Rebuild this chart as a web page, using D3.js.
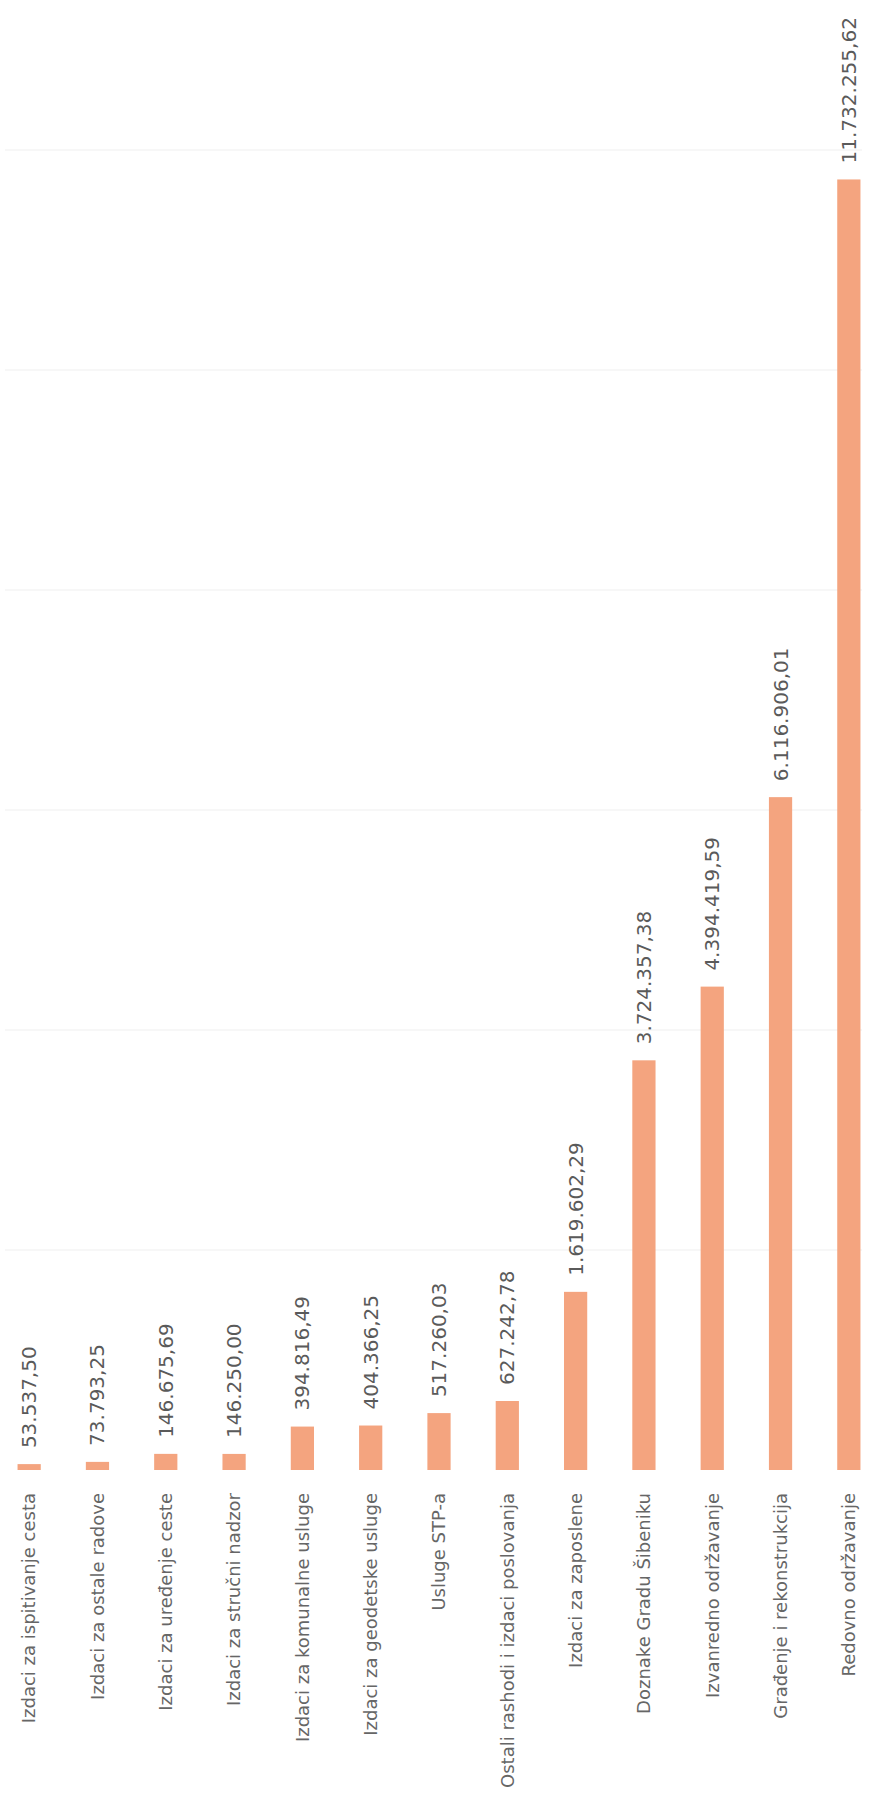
<!DOCTYPE html>
<html>
<head>
<meta charset="utf-8">
<script src="https://cdn.jsdelivr.net/npm/d3@7"></script>
<style>
  body { margin: 0; background: #fff; }
  .val { font-family: "DejaVu Sans", sans-serif; font-size: 20px; fill: #5a5a5a; }
  .cat { font-family: "DejaVu Sans", sans-serif; font-size: 18px; fill: #666; }
</style>
</head>
<body>
<div id="chart"></div>
<script>
// stavke rashoda, od najmanje do najvece
var categories = [
  "Izdaci za ispitivanje cesta",
  "Izdaci za ostale radove",
  "Izdaci za uređenje ceste",
  "Izdaci za stručni nadzor",
  "Izdaci za komunalne usluge",
  "Izdaci za geodetske usluge",
  "Usluge STP-a",
  "Ostali rashodi i izdaci poslovanja",
  "Izdaci za zaposlene",
  "Doznake Gradu Šibeniku",
  "Izvanredno održavanje",
  "Građenje i rekonstrukcija",
  "Redovno održavanje"
]
var values = [53537.50, 73793.25, 146675.69, 146250.00, 394816.49, 404366.25, 517260.03,
  627242.78, 1619602.29, 3724357.38, 4394419.59, 6116906.01, 11732255.62]
var gridTicks = [0, 2000000, 4000000, 6000000, 8000000, 10000000, 12000000]

var width = 871, height = 1808
var baseY = 1470, topY = 150

var svg = d3.select("#chart")
  .append("svg")
  .attr("width", width)
  .attr("height", height)

var x = d3.scaleBand()
  .domain(categories)
  .range([-5, 883])
  .paddingInner(0.66)
  .paddingOuter(0.33)

var y = d3.scaleLinear()
  .domain([0, 12000000])
  .range([baseY, topY])

// mreza (jako blijeda)
svg.append("g")
  .selectAll("line")
  .data(gridTicks.slice(1))
  .enter()
  .append("line")
  .attr("x1", 5)
  .attr("x2", 862)
  .attr("y1", d => y(d))
  .attr("y2", d => y(d))
  .attr("stroke", "#f0f0f0")
  .attr("stroke-width", 1.2)

var fmt = d3.formatLocale({decimal: ",", thousands: ".", grouping: [3], currency: ["", ""]}).format(",.2f")

svg.append("g")
  .selectAll("rect")
  .data(values)
  .enter()
  .append("rect")
  .attr("x", (d, i) => x(categories[i]))
  .attr("width", x.bandwidth())
  .attr("y", d => y(d))
  .attr("height", d => baseY - y(d))
  .attr("fill", "#f4a47f")

svg.append("g")
  .selectAll("text")
  .data(values)
  .enter()
  .append("text")
  .attr("class", "val")
  .attr("transform", (d, i) => "translate(" + (x(categories[i]) + x.bandwidth() / 2) + "," + (y(d) - 16) + ") rotate(-90)")
  .attr("dy", "0.35em")
  .style("text-anchor", "start")
  .text(d => fmt(d))

svg.append("g")
  .selectAll("text")
  .data(categories)
  .enter()
  .append("text")
  .attr("class", "cat")
  .attr("transform", d => "translate(" + (x(d) + x.bandwidth() / 2) + "," + (baseY + 23) + ") rotate(-90)")
  .attr("dy", "0.35em")
  .style("text-anchor", "end")
  .text(d => d)
</script>
</body>
</html>
